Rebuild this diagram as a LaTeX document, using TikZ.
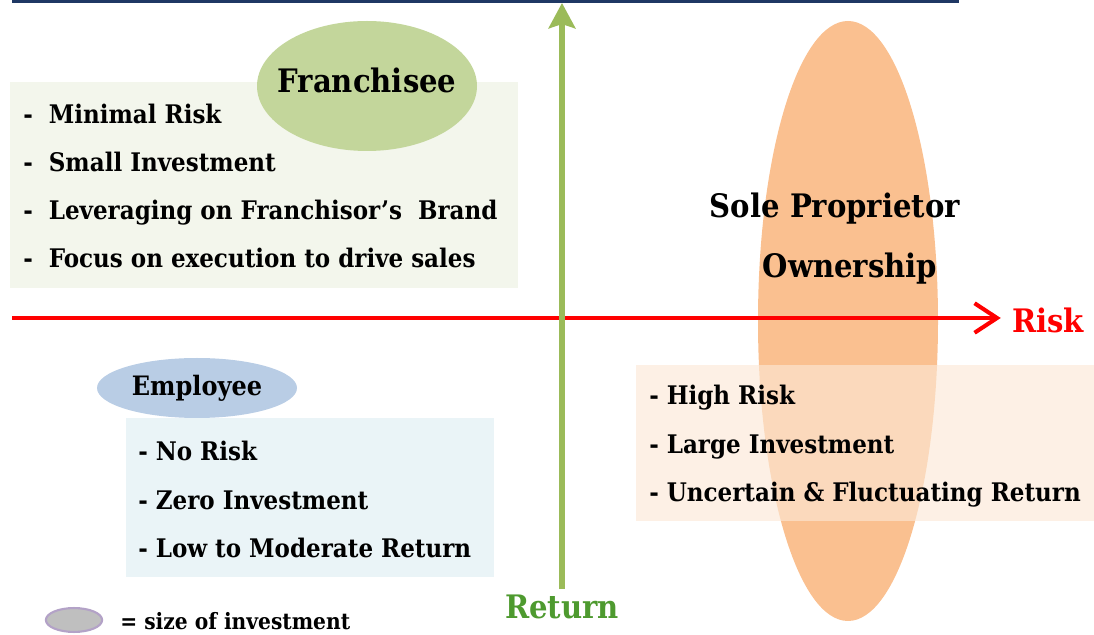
\documentclass[tikz,border=0pt]{standalone}
\usepackage{fontspec}
\setmainfont{DejaVu Serif Condensed}
\usepackage{tikz}
\usetikzlibrary{arrows.meta,shapes.geometric}
\definecolor{frame navy}{HTML}{1F3864}
\definecolor{franchisee green}{HTML}{C3D69B}
\definecolor{franchisee box}{HTML}{F3F6EC}
\definecolor{owner orange}{HTML}{FAC090}
\definecolor{owner box}{HTML}{FCE8D6}
\definecolor{employee blue}{HTML}{B9CDE5}
\definecolor{employee box}{HTML}{EAF4F7}
\definecolor{return green}{HTML}{9BBB59}
\definecolor{return text}{HTML}{4E9A2F}
\definecolor{legend purple}{HTML}{B3A2C7}

\begin{document}
\begin{tikzpicture}[x=0.025cm, y=-0.025cm,
		every node/.style={inner sep=0pt},
		point/.style={anchor=base west, font=\fontsize{18.2}{22}\selectfont\bfseries},
		title/.style={anchor=base, font=\fontsize{23}{27}\selectfont\bfseries}]
			\useasboundingbox (0,0) rectangle (1094,635);
			% frame line on top
			\draw[frame navy, line width=1.8pt] (12,1.5) -- (959,1.5);
			% part for Franchisee
			\begin{scope}
				\fill[franchisee box] (10,82) rectangle (518,288);
				\fill[franchisee green] (367,86) ellipse (110 and 65);
			\end{scope}
			\node[title] (franchisee) at (367,93) {Franchisee};
			\node[point] (fr1) at (23,124) {-\ \ Minimal Risk};
			\node[point] (fr2) at (23,172) {-\ \ Small Investment};
			\node[point] (fr3) at (23,220) {-\ \ Leveraging on Franchisor’s\ \ Brand};
			\node[point] (fr4) at (23,268) {-\ \ Focus on execution to drive sales};
			% part for Sole Proprietor
			\begin{scope}
				\fill[owner orange] (848,321) ellipse (90 and 300);
				\fill[owner box, fill opacity=0.635] (636,365) rectangle (1094,521);
			\end{scope}
			\node[title] (sole) at (835,218) {Sole Proprietor};
			\node[title] (ownership) at (850,278) {Ownership};
			\node[point] (ow1) at (649,405) {- High Risk};
			\node[point] (ow2) at (649,454) {- Large Investment};
			\node[point] (ow3) at (649,502) {- Uncertain \& Fluctuating Return};
			% part for Employee
			\begin{scope}
				\fill[employee box] (126,418) rectangle (494,577);
				\fill[employee blue] (197,388) ellipse (100 and 30);
			\end{scope}
			\node[title, font=\fontsize{19}{22}\selectfont\bfseries] (employee) at (197,396) {Employee};
			\node[point] (em1) at (138,461) {- No Risk};
			\node[point] (em2) at (138,510) {- Zero Investment};
			\node[point] (em3) at (138,558) {- Low to Moderate Return};
			% axes
			\node[anchor=west, text=red, font=\fontsize{23}{27}\selectfont\bfseries] (risk) at (1012,320) {Risk};
			\coordinate (riskstart) at (12,318);
			\draw[red, line width=2.9pt, -{Straight Barb[length=16pt, width=21pt]}, shorten >=8pt]
				(riskstart) -- (riskstart -| risk.west);
			\node[text=return text, font=\fontsize{23}{27}\selectfont\bfseries] (return) at (562,607) {Return};
			\coordinate (returntop) at (563,3);
			\draw[return green, line width=3.6pt, -{Stealth[length=18pt, width=19pt, inset=3pt]}, shorten <=4pt]
				(return.north) -- (return.north |- returntop);
			% legend
			\node[ellipse, fill=gray!50, draw=legend purple, line width=1.5pt,
				minimum width=40pt, minimum height=17pt] (legend) at (74,620) {};
			\node[anchor=west, font=\fontsize{16}{19}\selectfont\bfseries] (legendtext) at (120,621) {= size of investment};
		\end{tikzpicture}
\end{document}
